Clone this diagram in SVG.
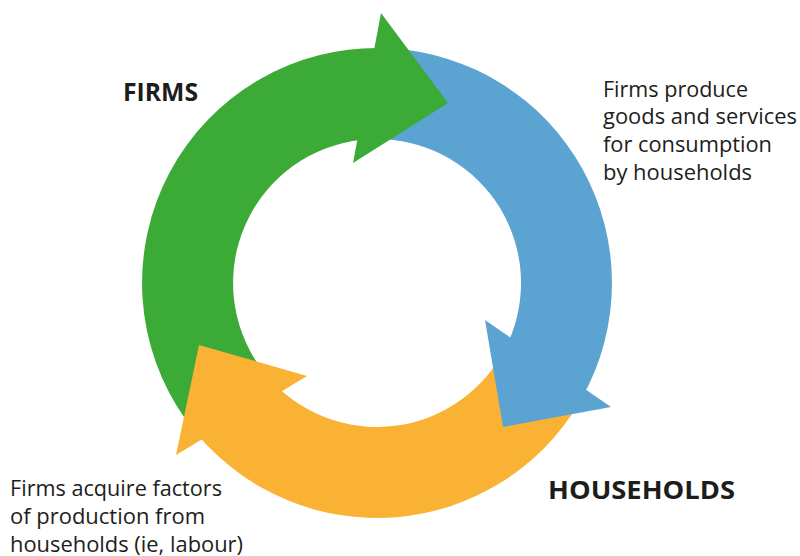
<svg xmlns="http://www.w3.org/2000/svg" width="800" height="556" viewBox="0 0 800 556">
  <style>
    .green { fill: #3caa37; }
    .blue { fill: #5ba4d2; }
    .orange { fill: #f9b234; }
    .lbl { font-family: "Open Sans", "Noto Sans", "DejaVu Sans", sans-serif; font-size: 22px; fill: #1d1d1b; }
    .title { font-family: "Open Sans", "Noto Sans", "DejaVu Sans", sans-serif; font-size: 25px; font-weight: bold; fill: #1d1d1b; }
  </style>
  <rect width="800" height="556" fill="#ffffff"/>
  <g id="connectors">
    <g id="bodies">
      <path id="green-body" class="green" d="M 185.7 419.4 A 235 235 0 0 1 384.4 48.1 L 361.9 139.8 A 144 144 0 0 0 259.8 366.6 Z"/>
      <path id="blue-body" class="blue" d="M 389.3 48.3 A 235 235 0 0 1 582.3 397.3 L 508.7 341.3 A 144 144 0 0 0 384.5 139.2 Z"/>
      <path id="orange-body" class="orange" d="M 578.4 404 A 235 235 0 0 1 197.8 435.0 L 278.8 388.3 A 144 144 0 0 0 500.4 357.2 Z"/>
    </g>
    <g id="heads">
      <polygon id="green-head" class="green" points="381,13 448,103 353,163"/>
      <polygon id="blue-head" class="blue" points="485,320 611,407 503,427"/>
      <polygon id="orange-head" class="orange" points="176,455 307,376 199,345"/>
    </g>
  </g>
  <g id="firms">
    <text class="title" x="123" y="101" textLength="75" lengthAdjust="spacingAndGlyphs">FIRMS</text>
  </g>
  <g id="households">
    <text class="title" x="548" y="499" textLength="187" lengthAdjust="spacingAndGlyphs">HOUSEHOLDS</text>
  </g>
  <g id="label-goods">
    <text class="lbl" x="603" y="96.5" textLength="145" lengthAdjust="spacingAndGlyphs">Firms produce</text>
    <text class="lbl" x="603" y="124.3" textLength="194" lengthAdjust="spacingAndGlyphs">goods and services</text>
    <text class="lbl" x="603" y="152.1" textLength="169" lengthAdjust="spacingAndGlyphs">for consumption</text>
    <text class="lbl" x="603" y="180" textLength="149" lengthAdjust="spacingAndGlyphs">by households</text>
  </g>
  <g id="label-factors">
    <text class="lbl" x="10" y="496" textLength="212" lengthAdjust="spacingAndGlyphs">Firms acquire factors</text>
    <text class="lbl" x="10" y="523.8" textLength="195" lengthAdjust="spacingAndGlyphs">of production from</text>
    <text class="lbl" x="10" y="551.6" textLength="233" lengthAdjust="spacingAndGlyphs">households (ie, labour)</text>
  </g>
</svg>
